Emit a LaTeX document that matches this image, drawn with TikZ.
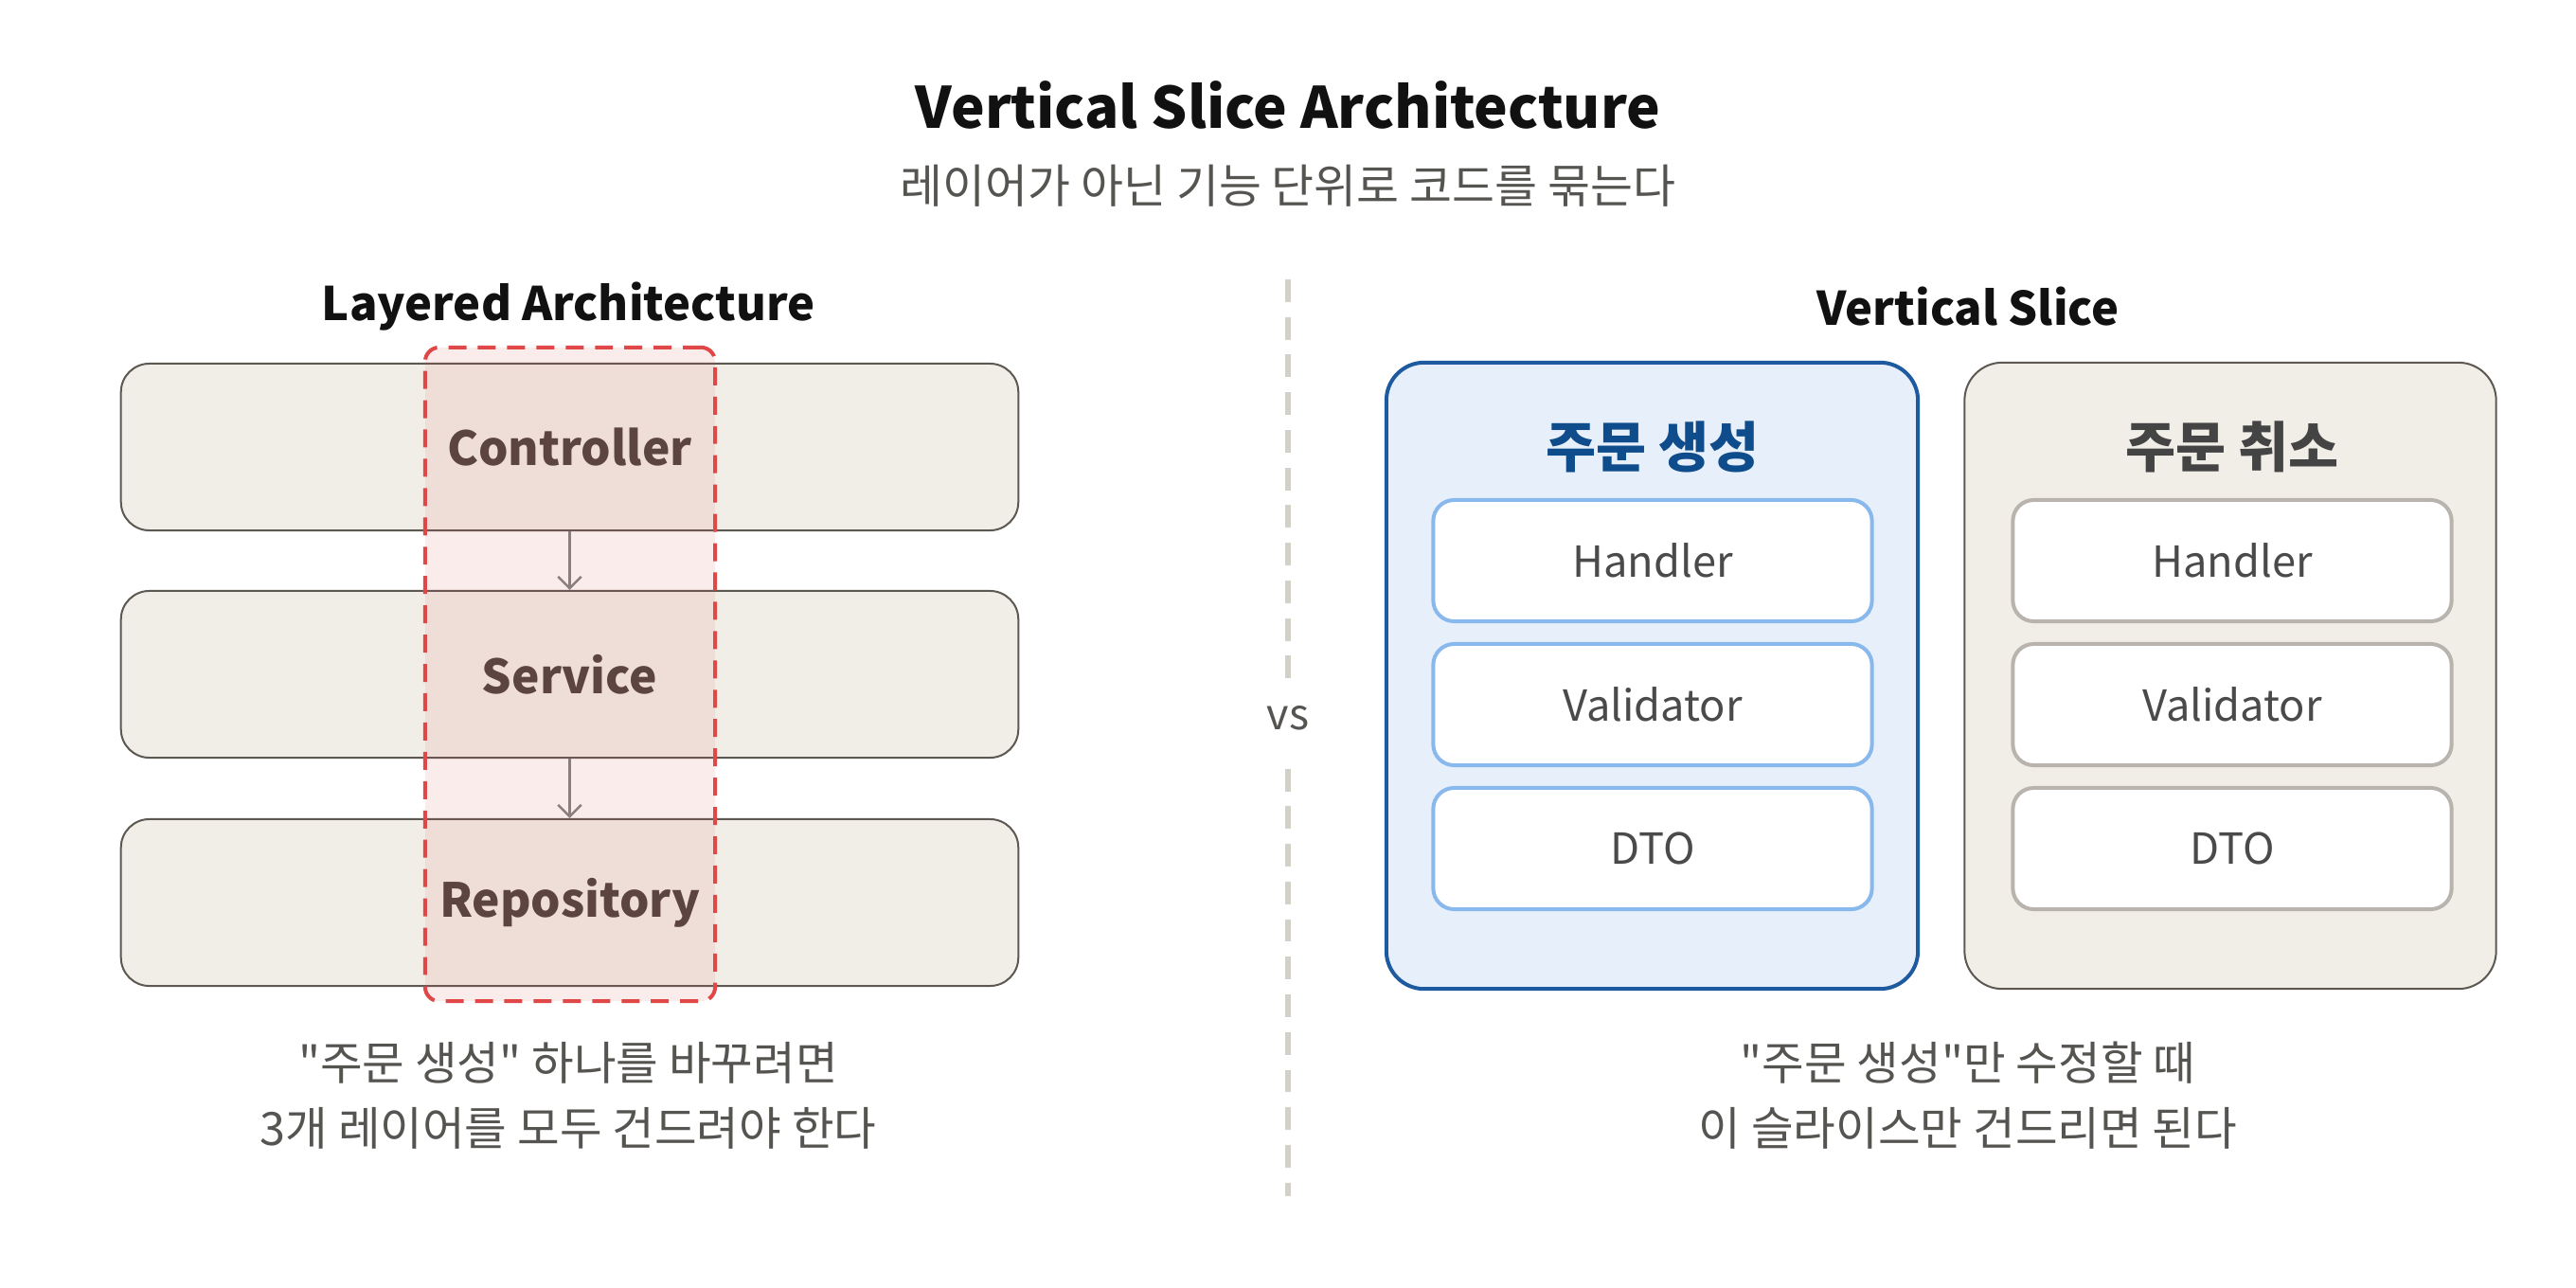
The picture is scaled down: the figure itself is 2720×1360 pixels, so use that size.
\documentclass[tikz,border=0pt]{standalone}
\usepackage{fontspec}
\setmainfont{Noto Sans CJK KR}[Ligatures=TeXOff]
\usetikzlibrary{arrows.meta}
\definecolor{titlec}{HTML}{111111}
\definecolor{subc}{HTML}{555450}
\definecolor{boxfill}{HTML}{F1EEE8}
\definecolor{boxline}{HTML}{5E5853}
\definecolor{layertext}{HTML}{4E4440}
\definecolor{focusred}{HTML}{E04848}
\definecolor{arrowc}{HTML}{8A7F7A}
\definecolor{divc}{HTML}{D3D0C8}
\definecolor{bluefill}{HTML}{E7F0FA}
\definecolor{blueline}{HTML}{1E5AA0}
\definecolor{bluetitle}{HTML}{0F4C8C}
\definecolor{innerblue}{HTML}{88B8EC}
\definecolor{innergray}{HTML}{B8B3AC}
\definecolor{innertext}{HTML}{4A4A4A}
\definecolor{graytitle}{HTML}{444444}
\begin{document}
\begin{tikzpicture}[x=0.01cm,y=-0.01cm,
  titletext/.style={font=\fontsize{17.1}{20}\selectfont\bfseries, text=titlec},
  subtext/.style={font=\fontsize{13.9}{16}\selectfont, text=subc},
  headtext/.style={font=\fontsize{13.9}{17}\selectfont\bfseries, text=titlec},
  layerbox/.style={draw=boxline, fill=boxfill, line width=0.57pt, rounded corners=0.3cm,
    minimum width=9.47cm, minimum height=1.76cm, inner sep=0pt,
    font=\fontsize{14.1}{17}\selectfont\bfseries, text=layertext},
  focusbox/.style={draw=focusred, fill=focusred, fill opacity=0.1, draw opacity=1,
    line width=1.14pt, dash pattern=on 5.4pt off 3.4pt, rounded corners=0.15cm,
    minimum width=3.06cm, minimum height=6.9cm, inner sep=0pt},
  flow/.style={draw=arrowc, line width=0.7pt, -{Straight Barb[length=3.5pt,width=7pt]}},
  divider/.style={draw=divc, line width=1.7pt, dash pattern=on 6.8pt off 4.5pt},
  vslabel/.style={fill=white, minimum height=0.77cm, inner sep=1pt,
    font=\fontsize{12.8}{15}\selectfont, text=subc},
  slicebox/.style={line width=1.14pt, rounded corners=0.4cm,
    minimum width=5.61cm, minimum height=6.61cm, inner sep=0pt},
  bluebox/.style={slicebox, draw=blueline, fill=bluefill},
  graybox/.style={slicebox, draw=boxline, fill=boxfill, line width=0.57pt},
  slicetitle/.style={font=\fontsize{16.4}{19}\selectfont\bfseries},
  innerbox/.style={fill=white, line width=1.14pt, rounded corners=0.22cm,
    minimum width=4.63cm, minimum height=1.28cm, inner sep=0pt,
    font=\fontsize{12.85}{15}\selectfont, text=innertext},
  bluein/.style={innerbox, draw=innerblue},
  grayin/.style={innerbox, draw=innergray},
  notetext/.style={align=center, font=\fontsize{13.8}{19.6}\selectfont, text=subc}
]
\useasboundingbox (0,0) rectangle (2720,1360);
\fill[white] (0,0) rectangle (2720,1360);

% titles
\node[titletext] (title) at (1360,111) {Vertical Slice Architecture};
\node[subtext] (subtitle) at (1360,196) {레이어가 아닌 기능 단위로 코드를 묶는다};
\node[headtext] (lhead) at (600,324) {Layered Architecture};
\node[headtext] (rhead) at (2078,324) {Vertical Slice};

% layered
\node[layerbox] (ctrl) at (601.5,472) {Controller};
\node[layerbox] (svc) at (601.5,712) {Service};
\node[layerbox] (repo) at (601.5,953) {Repository};
\node[focusbox] (focus) at (602,712) {};
\draw[flow] (ctrl.south) -- (svc.north);
\draw[flow] (svc.south) -- (repo.north);

\node[notetext] (lnote) at (600,1157) {"주문 생성" 하나를 바꾸려면\\3개 레이어를 모두 건드려야 한다};

% divider
\coordinate (dtop) at (1360,295);
\coordinate (dbot) at (1360,1263);
\draw[divider] (dtop) -- (dbot);
\node[vslabel] (vs) at (1360,758) {vs};

% slices
\node[bluebox] (create) at (1744.5,713.5) {};
\node[graybox] (cancel) at (2355,713.5) {};
\node[slicetitle, text=bluetitle] (createT) at (1745,472) {주문 생성};
\node[slicetitle, text=graytitle] (cancelT) at (2357,472) {주문 취소};

\node[bluein] (ch) at (1745,592) {Handler};
\node[bluein] (cv) at (1745,744) {Validator};
\node[bluein] (cd) at (1745,896) {DTO};
\node[grayin] (xh) at (2357,592) {Handler};
\node[grayin] (xv) at (2357,744) {Validator};
\node[grayin] (xd) at (2357,896) {DTO};

\node[notetext] (rnote) at (2078,1157) {"주문 생성"만 수정할 때\\이 슬라이스만 건드리면 된다};
\end{tikzpicture}
\end{document}
